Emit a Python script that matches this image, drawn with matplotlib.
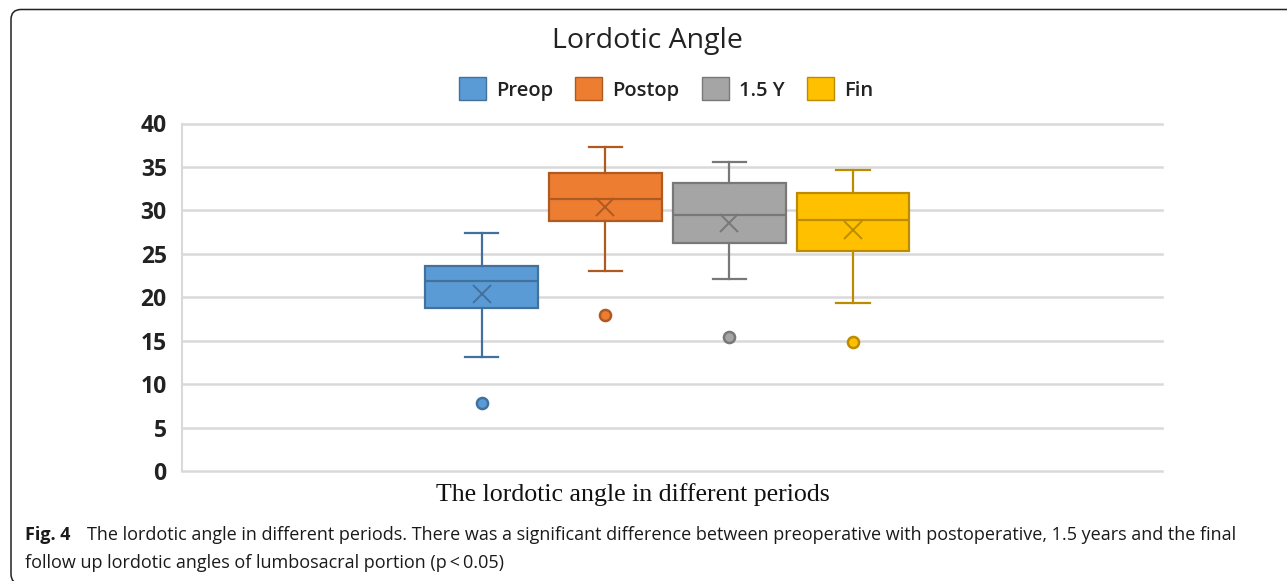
import matplotlib
matplotlib.use("Agg")
import matplotlib.pyplot as plt
from matplotlib.patches import FancyBboxPatch, Patch
from matplotlib.transforms import IdentityTransform

# summary values
groups = ["Preop", "Postop", "1.5 Y", "Fin"]
q1 = [18.8, 28.8, 26.2, 25.3]
med = [21.9, 31.3, 29.5, 28.9]
q3 = [23.6, 34.3, 33.1, 32.0]
whislo = [13.1, 23.0, 22.1, 19.3]
whishi = [27.4, 37.3, 35.6, 34.6]
means = [20.4, 30.4, 28.5, 27.7]
outliers = [[7.8], [18.0], [15.4], [14.8]]

fill = ["#5B9BD5", "#ED7D31", "#A5A5A5", "#FFC000"]
edge = ["#41719C", "#AE5A21", "#787878", "#BC8C00"]

W, H = 1287, 581
fig = plt.figure(figsize=(W / 100, H / 100), dpi=100)

# rounded frame around the figure panel (right and bottom edges cropped)
frame = FancyBboxPatch((11, -3), 1300, 574.5, boxstyle="round,pad=0,rounding_size=10",
                       transform=IdentityTransform(), fill=False, ec="#222222", lw=1.1)
fig.patches.append(frame)

ax = fig.add_axes([182 / W, 1 - 471 / H, (1162 - 182) / W, (471 - 123.5) / H])

stats = []
for i in range(len(groups)):
    stats.append(dict(q1=q1[i], med=med[i], q3=q3[i], whislo=whislo[i],
                      whishi=whishi[i], mean=means[i], fliers=outliers[i]))

pos = list(range(1, len(groups) + 1))
for i, st in enumerate(stats):
    ax.bxp([st], positions=[pos[i]], widths=0.91, capwidths=0.27,
           patch_artist=True, showmeans=True, zorder=3,
           boxprops=dict(facecolor=fill[i], edgecolor=edge[i], linewidth=1.6),
           medianprops=dict(color=edge[i], linewidth=1.6),
           whiskerprops=dict(color=edge[i], linewidth=1.6),
           capprops=dict(color=edge[i], linewidth=1.6),
           meanprops=dict(marker="x", markersize=13, markeredgecolor=edge[i],
                          markeredgewidth=1.4),
           flierprops=dict(marker="o", markersize=8, markerfacecolor=fill[i],
                           markeredgecolor=edge[i], markeredgewidth=1.8))

ax.set_xlim(1 - 2.421, 4 + 2.496)
ax.set_ylim(0, 40)
ax.set_yticks(range(0, 41, 5))
ax.set_xticks([])
ax.grid(axis="y", color="#D9D9D9", linewidth=1.8, zorder=0)
for ln in ax.get_ygridlines():
    ln.set_clip_on(False)
ax.set_axisbelow(True)
for s in ["top", "right", "bottom"]:
    ax.spines[s].set_visible(False)
ax.spines["left"].set_color("#D9D9D9")
ax.spines["left"].set_linewidth(1.5)
ax.tick_params(axis="y", length=0, pad=11, labelsize=16.5, labelcolor="#222222")
for t in ax.get_yticklabels():
    t.set_fontfamily("Open Sans")
    t.set_fontweight("bold")

fig.text(647 / W, 1 - 48 / H, "Lordotic Angle", ha="center", va="baseline",
         fontsize=20.5, family="Open Sans", color="#222222")

handles = [Patch(facecolor=fill[i], edgecolor=edge[i], linewidth=1) for i in range(len(groups))]
leg = fig.legend(handles, groups, loc="center", bbox_to_anchor=(666 / W, 1 - 89 / H),
                 ncol=4, frameon=False, handlelength=1.35, handleheight=1.35,
                 handletextpad=0.5, columnspacing=1.1,
                 prop=dict(family="Open Sans", size=14.5, weight="semibold"))
for t in leg.get_texts():
    t.set_color("#222222")

fig.text(633 / W, 1 - 501 / H, "The lordotic angle in different periods", ha="center",
         va="baseline", fontsize=18.6, family="Liberation Serif", color="#111111")

fig.text(25 / W, 1 - 540 / H, "Fig. 4", ha="left", va="baseline", fontsize=13,
         family="Open Sans", weight="bold", color="#1a1a1a")
fig.text(87 / W, 1 - 540 / H,
         "The lordotic angle in different periods. There was a significant difference between "
         "preoperative with postoperative, 1.5 years and the final",
         ha="left", va="baseline", fontsize=13, family="Open Sans", color="#1a1a1a")
fig.text(25 / W, 1 - 568 / H, "follow up lordotic angles of lumbosacral portion (p\u2009<\u20090.05)",
         ha="left", va="baseline", fontsize=13, family="Open Sans", color="#1a1a1a")

fig.savefig("out.png", dpi=100)
